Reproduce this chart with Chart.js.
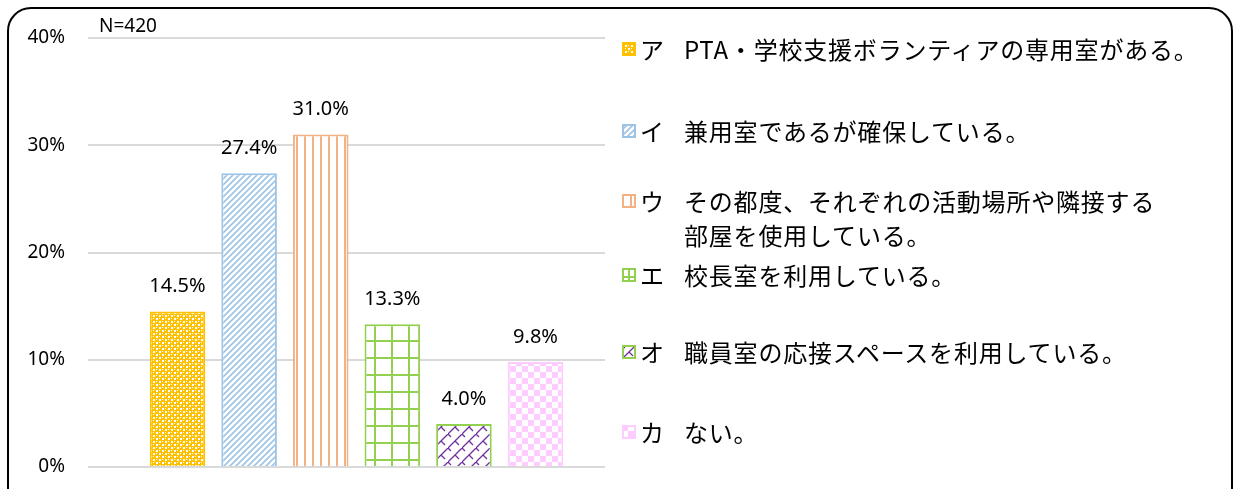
<!DOCTYPE html>
<html>
<head>
<meta charset="utf-8">
<script src="https://cdn.jsdelivr.net/npm/chart.js@4/dist/chart.umd.min.js"></script>
<style>
body { margin: 0; background: #fff; }
#wrap { position: relative; width: 1240px; height: 489px; overflow: hidden; }
#frame { position: absolute; left: 7px; top: 7px; width: 1222px; height: 520px; border: 2px solid #000; border-radius: 24px; }
#chartCanvas { position: absolute; left: 0; top: 0; }
.lgRow { position: absolute; font-family: 'Noto Sans CJK JP', sans-serif; font-size: 24px; letter-spacing: 0.8px; color: #000; line-height: 34px; white-space: nowrap; }
.lgKey { position: absolute; left: 640px; }
.lgTxt { position: absolute; left: 684px; }
.lgBox { position: absolute; left: 622px; }
#nLabel { position: absolute; left: 99px; top: 12px; font-family: 'Noto Sans', sans-serif; font-size: 19px; color: #000; }
</style>
</head>
<body>
<div id="wrap">
  <div id="frame"></div>
  <canvas id="chartCanvas" width="1240" height="489"></canvas>
  <div id="nLabel">N=420</div>
  <div id="legend"></div>
</div>
<script>
// chart data
var catLabels = ['ア', 'イ', 'ウ', 'エ', 'オ', 'カ'];
var catValues = [14.5, 27.4, 31.0, 13.3, 4.0, 9.8];
var yTickValues = [0, 10, 20, 30, 40];
var legendTexts = [
    ['PTA・学校支援ボランティアの専用室がある。'],
    ['兼用室であるが確保している。'],
    ['その都度、それぞれの活動場所や隣接する', '部屋を使用している。'],
    ['校長室を利用している。'],
    ['職員室の応接スペースを利用している。'],
    ['ない。']
];

var lineColors = ['#FFC000', '#9DC3E6', '#F4B183', '#92D050', '#92D050', '#FFCCFF'];
var legendTops = [32, 114, 184, 258, 335, 415];

function makeTile(kind) {
    let c = document.createElement('canvas');
    let g = c.getContext('2d');
    switch (kind) {
        case 0: // yellow small lattice
            c.width = 6; c.height = 6;
            g.fillStyle = '#FFC000';
            g.fillRect(0, 0, 6, 6);
            g.fillStyle = '#FFFFFF';
            g.fillRect(0, 0, 2, 2);
            g.fillRect(3, 3, 2, 2);
            g.fillRect(3, 0, 1, 1);
            g.fillRect(0, 3, 1, 1);
            break;
        case 1: // blue diagonal
            c.width = 6; c.height = 6;
            g.fillStyle = '#FFFFFF';
            g.fillRect(0, 0, 6, 6);
            g.strokeStyle = '#9DC3E6';
            g.lineWidth = 1.6;
            g.beginPath();
            g.moveTo(-1, 7); g.lineTo(7, -1);
            g.moveTo(-2, 2); g.lineTo(2, -2);
            g.moveTo(4, 8); g.lineTo(8, 4);
            g.stroke();
            break;
        case 2: // orange vertical
            c.width = 8; c.height = 8;
            g.fillStyle = '#FFFFFF';
            g.fillRect(0, 0, 8, 8);
            g.fillStyle = '#F4B183';
            g.fillRect(0, 0, 2, 8);
            break;
        case 3: // green grid
            c.width = 17; c.height = 17;
            g.fillStyle = '#FFFFFF';
            g.fillRect(0, 0, 17, 17);
            g.fillStyle = '#92D050';
            g.fillRect(0, 0, 2, 17);
            g.fillRect(0, 0, 17, 2);
            break;
        case 4: // purple weave
            c.width = 14; c.height = 14;
            g.fillStyle = '#FFFFFF';
            g.fillRect(0, 0, 14, 14);
            g.strokeStyle = '#7030A0';
            g.lineWidth = 1.3;
            g.beginPath();
            g.moveTo(-1, 15); g.lineTo(15, -1);
            g.moveTo(7, 7); g.lineTo(11, 11);
            g.moveTo(0, 0); g.lineTo(3, 3);
            g.stroke();
            break;
        case 5: // pink checker
            c.width = 12; c.height = 12;
            g.fillStyle = '#FFFFFF';
            g.fillRect(0, 0, 12, 12);
            g.fillStyle = '#FFCCFF';
            g.fillRect(0, 0, 6, 6);
            g.fillRect(6, 6, 6, 6);
            break;
    }
    return c;
}

var ctx = document.getElementById('chartCanvas').getContext('2d');
var barPatterns = catLabels.map(function (c, i) {
    return ctx.createPattern(makeTile(i), 'repeat');
});

// legend
var legendBox = document.getElementById('legend');
catLabels.forEach(function (lab, i) {
    let row = document.createElement('div');
    row.className = 'lgRow';
    row.style.top = legendTops[i] + 'px';
    row.style.left = '0px';
    let sw = document.createElement('canvas');
    sw.width = 14; sw.height = 14;
    sw.className = 'lgBox';
    sw.style.top = '10px';
    let sg = sw.getContext('2d');
    sg.fillStyle = sg.createPattern(makeTile(i), 'repeat');
    sg.fillRect(0, 0, 14, 14);
    if (i == 3) { // grid too coarse for the small key
        sg.fillStyle = '#FFFFFF';
        sg.fillRect(0, 0, 14, 14);
        sg.fillStyle = lineColors[i];
        sg.fillRect(6, 0, 2, 14);
        sg.fillRect(0, 8, 14, 2);
    }
    sg.strokeStyle = lineColors[i];
    sg.lineWidth = 2;
    sg.strokeRect(1, 1, 12, 12);
    row.appendChild(sw);
    let k = document.createElement('span');
    k.className = 'lgKey';
    k.textContent = lab;
    row.appendChild(k);
    legendTexts[i].forEach(function (t, j) {
        let s = document.createElement('span');
        s.className = 'lgTxt';
        s.style.top = (j * 34) + 'px';
        s.textContent = t;
        row.appendChild(s);
    });
    legendBox.appendChild(row);
});

var valueLabelPlugin = {
    id: 'valueLabels',
    afterDatasetsDraw: function (chart) {
        let c = chart.ctx;
        let meta = chart.getDatasetMeta(0);
        c.save();
        c.font = '20px "Noto Sans"';
        c.fillStyle = '#000';
        c.textAlign = 'center';
        c.textBaseline = 'middle';
        meta.data.forEach(function (bar, i) {
            c.fillText(catValues[i].toFixed(1) + '%', bar.x, bar.y - 25);
        });
        c.restore();
    }
};

var wtkChart = new Chart(ctx, {
    type: 'bar',
    data: {
        datasets: [{
            data: catValues.map(function (v, i) { return { x: i, y: v }; }),
            backgroundColor: barPatterns,
            borderColor: lineColors,
            borderWidth: 2,
            categoryPercentage: 1,
            barPercentage: 0.8
        }]
    },
    options: {
        responsive: false,
        animation: false,
        layout: { padding: { left: 0, right: 635, top: 38, bottom: 22 } },
        plugins: { legend: { display: false }, tooltip: { enabled: false } },
        scales: {
            x: {
                type: 'linear',
                min: -1.25,
                max: 5.97,
                offset: false,
                display: false
            },
            y: {
                min: 0,
                max: 40,
                afterFit: function (s) {
                    s.width = 88;
                    s.paddingTop = 0; // tick padding would otherwise push the plot up
                    s.paddingBottom = 0;
                },
                afterBuildTicks: function (s) {
                    s.ticks = yTickValues.map(function (v) { return { value: v }; });
                },
                border: { display: false },
                grid: { color: '#D9D9D9', lineWidth: 2, drawTicks: false },
                ticks: {
                    padding: 23,
                    color: '#000',
                    font: { family: 'Noto Sans', size: 19 },
                    callback: function (v) { return v + '%'; }
                }
            }
        }
    },
    plugins: [valueLabelPlugin]
});
</script>
</body>
</html>
